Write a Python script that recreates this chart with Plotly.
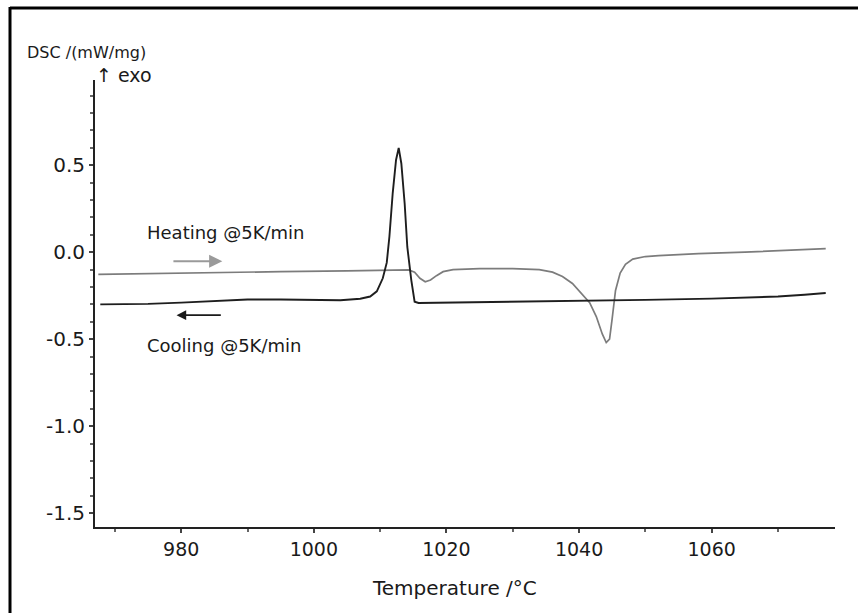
import plotly.graph_objects as go

# ---- data ----
heat_T = [967.5, 975, 985, 995, 1005, 1012, 1014.3, 1015.2, 1016.0, 1016.8, 1017.6, 1018.5,
          1019.5, 1021, 1025, 1030, 1034, 1036, 1037.5, 1039, 1040.5, 1041.6, 1042.6, 1043.5,
          1044.1, 1044.6, 1045.0, 1045.5, 1046.2, 1047, 1048.1, 1050, 1052, 1058, 1065, 1072, 1077.2]
heat_v = [-0.127, -0.122, -0.117, -0.112, -0.107, -0.102, -0.102, -0.115, -0.15, -0.17, -0.16, -0.135,
          -0.112, -0.10, -0.095, -0.095, -0.10, -0.115, -0.14, -0.18, -0.24, -0.29, -0.37, -0.47,
          -0.52, -0.50, -0.38, -0.22, -0.12, -0.07, -0.04, -0.025, -0.02, -0.008, 0.0, 0.01, 0.02]

cool_T = [967.8, 975, 980, 985, 990, 995, 1000, 1004, 1007, 1008.5, 1009.5, 1010.4, 1011.0,
          1011.4, 1011.9, 1012.4, 1012.8, 1013.2, 1013.7, 1014.1, 1014.7, 1015.2, 1015.8,
          1020, 1030, 1040, 1050, 1060, 1070, 1074, 1077.2]
cool_v = [-0.30, -0.297, -0.29, -0.28, -0.272, -0.272, -0.275, -0.276, -0.268, -0.255, -0.225, -0.15, -0.06,
          0.09, 0.34, 0.53, 0.60, 0.51, 0.28, 0.03, -0.16, -0.285, -0.292,
          -0.29, -0.287, -0.28, -0.274, -0.267, -0.255, -0.245, -0.235]

x_ticks = [980, 1000, 1020, 1040, 1060]
y_ticks = [0.5, 0.0, -0.5, -1.0, -1.5]
y_tick_text = ["0.5", "0.0", "-0.5", "-1.0", "-1.5"]

FONT = "DejaVu Sans, Liberation Sans, Arial, sans-serif"
TXT = "#1a1a1a"

fig = go.Figure()
fig.add_trace(go.Scatter(x=heat_T, y=heat_v, mode="lines", name="Heating",
                         line=dict(color="#7c7c7c", width=1.7), showlegend=False))
fig.add_trace(go.Scatter(x=cool_T, y=cool_v, mode="lines", name="Cooling",
                         line=dict(color="#1e1e1e", width=1.9), showlegend=False))

fig.update_layout(
    width=858, height=613,
    margin=dict(l=95, r=23, t=80, b=86),
    paper_bgcolor="white", plot_bgcolor="white",
    font=dict(family=FONT, color=TXT, size=18),
    xaxis=dict(range=[967.0, 1078.6], tickvals=x_ticks, showgrid=False, zeroline=False,
               showline=True, linecolor="#222", linewidth=2,
               ticks="outside", ticklen=4, tickwidth=1.5, tickcolor="#444",
               minor=dict(dtick=10, tick0=960, ticks="outside", ticklen=3, tickcolor="#666"),
               tickfont=dict(size=19, family=FONT, color=TXT)),
    yaxis=dict(range=[-1.58, 0.99], tickvals=y_ticks, ticktext=y_tick_text, showgrid=False, zeroline=False,
               showline=True, linecolor="#222", linewidth=2,
               ticks="outside", ticklen=4, tickwidth=1.5, tickcolor="#444",
               minor=dict(dtick=0.1, tick0=0, ticks="outside", ticklen=3, tickcolor="#666"),
               tickfont=dict(size=20, family=FONT, color=TXT)),
)

# pixel -> paper helpers for the plot area (l=95, width 740, bottom at 527, height 447)
def px2paper_x(px):
    return (px - 95) / 740.0

def px2paper_y(py):
    return (527 - py) / 447.0

# outer frame (left and top edges)
fig.add_shape(type="line", xref="paper", yref="paper",
              x0=px2paper_x(10), x1=px2paper_x(10), y0=px2paper_y(7), y1=px2paper_y(620),
              line=dict(color="black", width=3))
fig.add_shape(type="line", xref="paper", yref="paper",
              x0=px2paper_x(10), x1=px2paper_x(870), y0=px2paper_y(8), y1=px2paper_y(8),
              line=dict(color="black", width=3))

# labels
fig.add_annotation(text="Temperature /°C", xref="paper", yref="paper", x=px2paper_x(454), y=px2paper_y(588),
                   xanchor="center", yanchor="middle", showarrow=False, font=dict(size=20, color=TXT))
fig.add_annotation(text="DSC /(mW/mg)", xref="paper", yref="paper", x=px2paper_x(25), y=px2paper_y(53),
                   xanchor="left", yanchor="middle", showarrow=False, font=dict(size=16, color=TXT))
fig.add_annotation(text="↑ exo", xref="paper", yref="paper", x=px2paper_x(94), y=px2paper_y(75),
                   xanchor="left", yanchor="middle", showarrow=False, font=dict(size=19, color=TXT))
fig.add_annotation(text="Heating @5K/min", xref="x", yref="y", x=974.6, y=0.115,
                   xanchor="left", yanchor="middle", showarrow=False, font=dict(size=18, color=TXT))
fig.add_annotation(text="Cooling @5K/min", xref="x", yref="y", x=974.6, y=-0.535,
                   xanchor="left", yanchor="middle", showarrow=False, font=dict(size=18, color=TXT))

# direction arrows
fig.add_annotation(xref="x", yref="y", axref="x", ayref="y", x=986.2, y=-0.052, ax=978.6, ay=-0.052,
                   text="", showarrow=True, arrowhead=2, arrowsize=1.2, arrowwidth=2.2, arrowcolor="#9a9a9a")
fig.add_annotation(xref="x", yref="y", axref="x", ayref="y", x=979.3, y=-0.362, ax=986.2, ay=-0.362,
                   text="", showarrow=True, arrowhead=2, arrowsize=1.2, arrowwidth=1.6, arrowcolor="#1a1a1a")

fig.write_html("out.html")
